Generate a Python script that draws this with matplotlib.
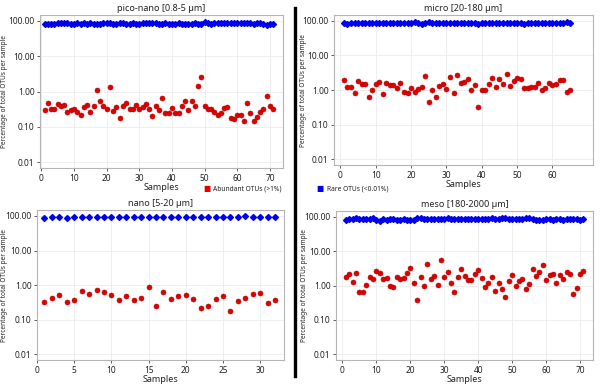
import matplotlib
matplotlib.use("Agg")
import matplotlib.pyplot as plt
from matplotlib.lines import Line2D

plt.rcParams['font.family'] = ['Noto Sans', 'DejaVu Sans']

# ---------------- data ----------------
titles = ["pico-nano [0.8-5 µm]", "micro [20-180 µm]", "nano [5-20 µm]", "meso [180-2000 µm]"]

pico_abundant = [0.30, 0.47, 0.31, 0.32, 0.44, 0.39, 0.42, 0.27, 0.30, 0.31,
                 0.27, 0.22, 0.37, 0.41, 0.27, 0.38, 1.14, 0.53, 0.38, 0.32,
                 1.33, 0.28, 0.36, 0.18, 0.38, 0.46, 0.31, 0.32, 0.42, 0.32,
                 0.37, 0.45, 0.33, 0.20, 0.38, 0.30, 0.65, 0.24, 0.25, 0.35,
                 0.24, 0.25, 0.38, 0.53, 0.30, 0.54, 0.38, 1.45, 2.66, 0.38,
                 0.32, 0.32, 0.26, 0.22, 0.25, 0.34, 0.36, 0.18, 0.17, 0.22,
                 0.22, 0.15, 0.47, 0.24, 0.15, 0.19, 0.27, 0.31, 0.77, 0.39,
                 0.31]
pico_rare = [84, 83, 83, 82, 85, 88, 89, 86, 84, 83,
             85, 84, 85, 84, 85, 84, 82, 84, 86, 85,
             85, 84, 83, 87, 85, 83, 84, 85, 84, 84,
             86, 90, 88, 86, 85, 84, 84, 85, 84, 83,
             84, 85, 83, 84, 83, 82, 85, 84, 83, 91,
             85, 84, 86, 85, 86, 85, 86, 87, 85, 86,
             88, 89, 86, 85, 84, 85, 86, 84, 76, 84,
             84]

micro_abundant = [1.92, 1.22, 1.22, 0.82, 1.87, 1.46, 1.46, 0.62, 0.98, 1.46,
                  1.75, 0.75, 1.57, 1.37, 1.40, 1.12, 1.60, 0.91, 0.82, 1.14,
                  0.87, 1.05, 1.22, 2.62, 0.45, 1.00, 0.64, 1.34, 1.46, 1.07,
                  2.34, 0.84, 2.74, 1.64, 1.67, 2.05, 1.02, 1.37, 0.33, 0.98,
                  1.02, 1.53, 2.29, 1.22, 2.05, 1.53, 3.00, 1.31, 1.87, 2.19,
                  2.05, 1.14, 1.17, 1.25, 1.20, 1.64, 1.02, 1.17, 1.57, 1.37,
                  1.53, 2.00, 1.92, 0.91, 1.02]
micro_rare = [86, 82, 85, 84, 85, 86, 86, 86, 85, 85,
              85, 86, 86, 88, 86, 85, 86, 85, 87, 89,
              90, 85, 83, 84, 94, 87, 87, 87, 88, 84,
              84, 86, 86, 87, 87, 87, 85, 84, 83, 86,
              87, 85, 86, 86, 86, 86, 86, 86, 86, 86,
              87, 83, 86, 86, 86, 86, 86, 85, 86, 85,
              85, 84, 86, 90, 84]

nano_abundant = [0.33, 0.42, 0.51, 0.33, 0.37, 0.68, 0.57, 0.71, 0.61, 0.51,
                 0.36, 0.48, 0.36, 0.43, 0.87, 0.25, 0.64, 0.39, 0.47, 0.51,
                 0.39, 0.22, 0.24, 0.39, 0.48, 0.18, 0.34, 0.43, 0.56, 0.58,
                 0.30, 0.37]
nano_rare = [90, 95, 95, 86, 96, 92, 92, 93, 93, 95,
             94, 91, 95, 94, 94, 96, 94, 94, 95, 95,
             93, 95, 95, 94, 94, 92, 95, 97, 95, 94,
             93, 93]

meso_abundant = [1.83, 2.18, 1.28, 2.28, 0.67, 0.63, 1.02, 1.83, 1.56, 2.61,
                 2.39, 1.60, 1.71, 0.98, 0.91, 1.75, 1.60, 1.71, 2.39, 3.19,
                 1.20, 0.39, 1.83, 1.00, 4.36, 1.60, 1.95, 1.05, 5.45, 1.83,
                 2.44, 1.22, 0.63, 1.75, 3.12, 1.95, 1.43, 1.49, 2.18, 2.92,
                 1.71, 0.89, 1.20, 1.79, 0.68, 1.20, 0.80, 0.48, 1.37, 2.04,
                 0.98, 1.37, 1.56, 0.80, 1.12, 3.05, 1.87, 2.55, 3.99, 1.43,
                 2.04, 2.23, 1.22, 2.04, 1.56, 2.50, 2.23, 0.57, 0.85, 2.18,
                 2.61]
meso_rare = [83, 85, 86, 90, 86, 86, 87, 85, 92, 79,
             78, 87, 83, 84, 85, 83, 83, 84, 80, 79,
             79, 95, 90, 88, 88, 87, 89, 86, 85, 86,
             90, 88, 88, 86, 86, 86, 86, 85, 84, 86,
             87, 88, 89, 91, 89, 87, 90, 95, 86, 84,
             88, 89, 85, 95, 94, 86, 80, 80, 83, 84,
             86, 83, 86, 87, 82, 85, 85, 86, 88, 80,
             88]

legend_labels = ["Abundant OTUs (>1%)", "Rare OTUs (<0.01%)"]
ytick_vals = [0.01, 0.1, 1, 10, 100]
ytick_labels = ["0.01", "0.10", "1.00", "10.00", "100.00"]

# ---------------- styling ----------------
RED = "#e00000"
BLUE = "#0000ee"

fig = plt.figure(figsize=(6.0, 3.84), dpi=100)

panels = [
    (titles[0], pico_abundant, pico_rare, [0.0667, 0.5625, 0.405, 0.3985], (-0.4, 74), 10, 71, -0.132),
    (titles[1], micro_abundant, micro_rare, [0.5567, 0.570, 0.4313, 0.391], (-1.8, 71.4), 10, 61, -0.104),
    (titles[2], nano_abundant, nano_rare, [0.0617, 0.0625, 0.4116, 0.3905], (0, 33.2), 5, 31, -0.117),
    (titles[3], meso_abundant, meso_rare, [0.5600, 0.0625, 0.4283, 0.388], (-1.9, 73.8), 10, 71, -0.109),
]

for title, ab, rare, rect, xlim, xstep, xmax, ylab_x in panels:
    ax = fig.add_axes(rect)
    xs_a = list(range(1, len(ab) + 1))
    xs_r = list(range(1, len(rare) + 1))
    ax.plot(xs_r, rare, linestyle='none', marker='D', ms=3.0,
            mec=BLUE, mfc=BLUE, zorder=3)
    ax.plot(xs_a, ab, linestyle='none', marker='o', ms=3.6, mfc=RED,
            mec="#b00000", mew=0.4, zorder=3)
    ax.set_yscale('log')
    ax.set_ylim(0.0068, 148)
    ax.set_xlim(*xlim)
    ax.set_yticks(ytick_vals)
    ax.set_yticklabels(ytick_labels)
    ax.yaxis.set_minor_locator(matplotlib.ticker.NullLocator())
    ax.set_xticks(list(range(0, xmax, xstep)))
    ax.tick_params(axis='both', labelsize=6, length=2.5, width=0.6,
                   color="#444444", pad=1.5, labelcolor="#222222")
    ax.grid(True, color="#ebebeb", lw=0.6, zorder=0)
    ax.set_axisbelow(True)
    for s in ax.spines.values():
        s.set_color("#b5b5b5")
        s.set_linewidth(0.8)
    ax.set_title(title, fontsize=6.5, fontweight='bold', pad=3, color="#222222")
    ax.set_xlabel("Samples", fontsize=6.5, labelpad=0, color="#222222")
    ax.set_ylabel("Percentage of total OTUs per sample", fontsize=4.7,
                  color="#222222")
    ax.yaxis.set_label_coords(ylab_x, 0.5)

# legends
ly = 1 - 189 / 384
fig.text(203 / 600, ly, "■", color=RED, fontsize=5.5, va='center', ha='left',
         family='DejaVu Sans')
fig.text(213 / 600, ly, legend_labels[0], fontsize=4.8, va='center', ha='left',
         color="#222222")
fig.text(316 / 600, ly, "■", color=BLUE, fontsize=5.5, va='center', ha='left',
         family='DejaVu Sans')
fig.text(327 / 600, ly, legend_labels[1], fontsize=4.8, va='center', ha='left',
         color="#222222")

# divider
fig.add_artist(Line2D([295 / 600, 295 / 600], [1 - 8 / 384, 1 - 376 / 384],
                      color='black', lw=2.4, transform=fig.transFigure))

fig.savefig("out.png", dpi=100)
